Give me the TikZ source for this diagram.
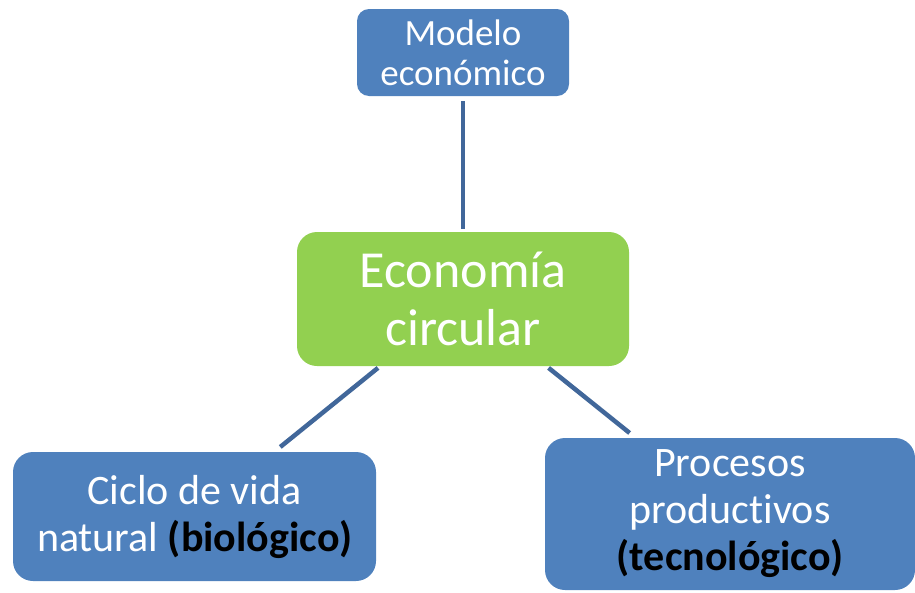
\documentclass[tikz,border=0pt]{standalone}
\usepackage{fontspec}
\setmainfont[Ligatures=NoCommon]{Carlito}
\usepackage{xcolor}
\definecolor{boxblue}{HTML}{4F81BD}
\definecolor{boxgreen}{HTML}{92D050}
\definecolor{linkblue}{HTML}{41679A}
\begin{document}
\begin{tikzpicture}[x=1pt,y=-1pt,
    box/.style={fill=boxblue,text=white,rounded corners=20pt,align=center,
      inner sep=0pt,outer sep=0pt},
    link/.style={draw=linkblue,line width=4.5pt}]
  \useasboundingbox (0,0) rectangle (915,592);
  \node (model) [box,rounded corners=12pt,minimum width=212pt,minimum height=87pt,
    font=\fontsize{37}{40}\selectfont] at (463,52.5) {Modelo\\econ\'omico};
  \node (econ) [box,fill=boxgreen,minimum width=332pt,minimum height=134pt,
    font=\fontsize{52}{58}\selectfont] at (463,299) {Econom\'ia\\circular};
  \node (ciclo) [box,minimum width=363pt,minimum height=129pt,
    font=\fontsize{42}{47}\selectfont] at (194.5,516.5)
    {Ciclo de vida\\natural \textbf{\color{black}(biol\'ogico)}};
  \node (proc) [box,minimum width=370pt,minimum height=152pt,
    font=\fontsize{42}{47}\selectfont] at (730,514)
    {Procesos\\productivos\\\textbf{\color{black}(tecnol\'ogico)}};
  \draw[link,shorten <=5pt,shorten >=3pt] (model) -- (econ);
  \draw[link,shorten <=3pt,shorten >=8pt] (econ) -- (ciclo);
  \draw[link,shorten <=3pt,shorten >=8pt] (econ) -- (proc);
\end{tikzpicture}
\end{document}
